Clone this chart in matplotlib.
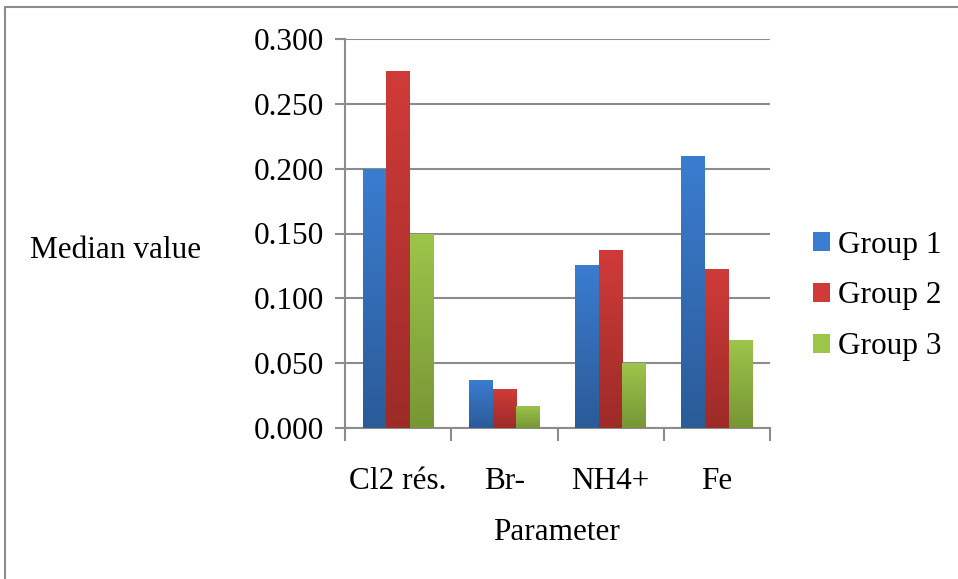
import numpy as np
import matplotlib.pyplot as plt
from matplotlib.colors import LinearSegmentedColormap
from matplotlib.patches import Rectangle, Patch

plt.rcParams['font.family'] = ['Liberation Serif', 'DejaVu Serif']

categories = ['Cl2 rés.', 'Br-', 'NH4+', 'Fe']
groups = ['Group 1', 'Group 2', 'Group 3']
group1 = [0.200, 0.037, 0.126, 0.210]
group2 = [0.275, 0.030, 0.137, 0.123]
group3 = [0.150, 0.017, 0.050, 0.068]
yticks = [0.0, 0.05, 0.10, 0.15, 0.20, 0.25, 0.30]

# top / bottom colours of the gradient fill
shades = [('#3b7dd0', '#2b5b98'), ('#d03b39', '#9c2b28'), ('#9dc54a', '#779635')]

fig = plt.figure(figsize=(9.58, 5.79), dpi=100)
ax = fig.add_axes([345 / 958, 1 - 428 / 579, 425 / 958, 389 / 579])

# outer chart frame
fig.patches.append(Rectangle((5 / 958, -0.1), 1.2, 1 - 7 / 579 + 0.1, transform=fig.transFigure,
                             fill=False, edgecolor='#8c8c8c', linewidth=1.5))

x = np.arange(len(categories))
w = 1 / 4.5
grad = np.linspace(1, 0, 256).reshape(-1, 1)
for i, vals in enumerate([group1, group2, group3]):
    bars = ax.bar(x + (i - 1) * w, vals, w, color=shades[i][0], zorder=3)
    cmap = LinearSegmentedColormap.from_list('g%d' % i, [shades[i][1], shades[i][0]])
    for b in bars:
        x0, y0 = b.get_x(), b.get_y()
        im = ax.imshow(grad, cmap=cmap, aspect='auto', zorder=3.5,
                       extent=[x0, x0 + b.get_width(), y0, y0 + b.get_height()])
        im.set_clip_path(b)

ax.set_xlim(-0.5, 3.5)
ax.set_ylim(0, 0.3)
ax.set_yticks(yticks)
ax.set_yticklabels(['%.3f' % t for t in yticks])
ax.yaxis.grid(True, color='#8c8c8c', linewidth=1.5, zorder=0)
ax.set_axisbelow(True)

ax.set_xticks(np.arange(-0.5, 4, 1))
ax.set_xticklabels([])
ax.set_xticks(x, minor=True)
ax.set_xticklabels(categories, minor=True)
ax.tick_params(axis='x', which='minor', length=0, pad=28, labelsize=22.5)
ax.tick_params(axis='x', which='major', length=9, width=1.5, color='#8c8c8c')
ax.tick_params(axis='y', length=7, width=1.5, color='#8c8c8c', labelsize=22.5, pad=8)

for s in ['top', 'right']:
    ax.spines[s].set_visible(False)
for s in ['left', 'bottom']:
    ax.spines[s].set_color('#8c8c8c')
    ax.spines[s].set_linewidth(1.5)

fig.text(116 / 958, 1 - 250 / 579, 'Median value', fontsize=22.5, ha='center', va='center')
fig.text(557 / 958, 1 - 532 / 579, 'Parameter', fontsize=22.5, ha='center', va='center')

handles = [Patch(facecolor=shades[i][0], label=groups[i]) for i in range(3)]
fig.legend(handles=handles, loc='center left', bbox_to_anchor=(813 / 958, 1 - 296 / 579),
           frameon=False, fontsize=22.5, handlelength=0.55, handleheight=0.55,
           handletextpad=0.25, labelspacing=0.7, borderpad=0, borderaxespad=0)

plt.savefig('out.png', dpi=100)
